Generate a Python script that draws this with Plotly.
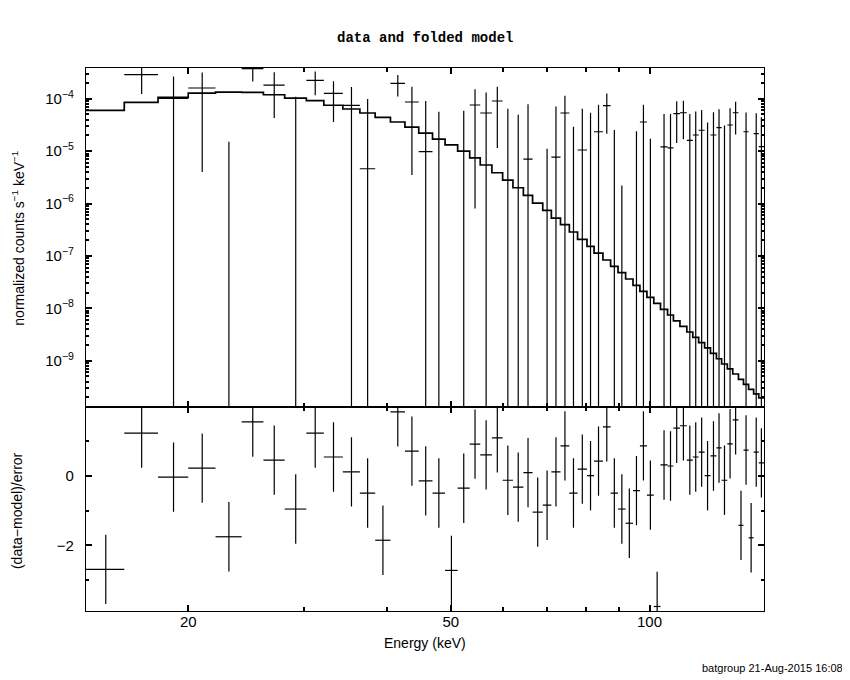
import math
import plotly.graph_objects as go
from plotly.subplots import make_subplots

# ---------------- data ----------------
# energy bin edges (keV)
e_edges = [14.0, 16.0, 18.0, 20.0, 22.0, 24.1, 26.0, 28.0, 30.2, 32.1,
           34.3, 36.4, 38.4, 40.5, 42.6, 44.7, 46.9, 49.0, 51.2, 53.4,
           55.4, 57.7, 59.9, 62.1, 64.4, 66.5, 68.9, 71.0, 73.3, 75.6,
           77.8, 80.4, 82.4, 85.0, 87.3, 89.6, 92.0, 94.4, 96.7, 99.1,
           101.5, 103.9, 106.5, 108.7, 111.2, 113.9, 116.3, 118.7, 121.2, 123.7,
           126.3, 128.6, 131.2, 133.7, 136.4, 138.8, 141.3, 143.8, 146.4, 149.1]

# folded model (normalized counts s^-1 keV^-1)
model = [5.99e-5, 8.51e-5, 1.06e-4, 1.28e-4, 1.34e-4, 1.32e-4, 1.19e-4, 1.03e-4, 9.16e-5, 7.5e-5,
         6.36e-5, 5.33e-5, 4.4e-5, 3.59e-5, 2.88e-5, 2.21e-5, 1.70e-5, 1.31e-5, 1.0e-5, 7.4e-6,
         5.43e-6, 3.86e-6, 2.8e-6, 2.0e-6, 1.43e-6, 1.02e-6, 7.4e-7, 5.28e-7, 3.94e-7, 2.86e-7,
         2.07e-7, 1.52e-7, 1.13e-7, 8.35e-8, 6.3e-8, 4.78e-8, 3.62e-8, 2.74e-8, 2.1e-8, 1.62e-8,
         1.24e-8, 9.5e-9, 7.45e-9, 5.73e-9, 4.52e-9, 3.53e-9, 2.79e-9, 2.21e-9, 1.75e-9, 1.38e-9,
         1.09e-9, 8.65e-10, 6.95e-10, 5.57e-10, 4.4e-10, 3.53e-10, 2.83e-10, 2.32e-10, 1.95e-10]

# observed data
rate = [-4.24e-4, 2.87e-4, 1.01e-4, 1.60e-4, -1.44e-4, 3.74e-4, 1.82e-4, -2.05e-5, 2.23e-4, 1.26e-4,
        7.46e-5, 4.6e-6, -1.225e-4, 1.96e-4, 8.65e-5, 9.8e-6, -2.07e-5, -1.94e-4, -1.6e-5, 7.58e-5,
        5.33e-5, 9.04e-5, -5.6e-6, -2.04e-5, 7.0e-6, -6.97e-5, -5.39e-5, 7.7e-6, 5.33e-5, -2.79e-5,
        1.05e-5, 0.0, 2.34e-5, 7.35e-5, -2.46e-5, -4.18e-5, -5.85e-5, -1.72e-5, 3.59e-5, -2.12e-5,
        -1.5e-4, 1.2e-5, 1.15e-5, 5.2e-5, 5.4e-5, 1.6e-5, 2.03e-5, 2.5e-5, 0.0, 2.03e-5,
        2.8e-5, -4.2e-6, 3.15e-5, 5.4e-5, -4.69e-5, 2.34e-5, -5.7e-5, 2.15e-5, 1.22e-5]

rate_err = [1.8e-4, 1.64e-4, 1.65e-4, 1.56e-4, 1.59e-4, 1.60e-4, 1.39e-4, 1.30e-4, 1.06e-4, 0.90e-4,
            0.92e-4, 9.4e-5, 9.0e-5, 8.6e-5, 8.3e-5, 8.1e-5, 7.7e-5, 7.6e-5, 7.5e-5, 7.5e-5,
            7.85e-5, 7.9e-5, 7.0e-5, 7.0e-5, 7.1e-5, 6.8e-5, 6.5e-5, 6.3e-5, 6.1e-5, 5.7e-5,
            5.4e-5, 5.4e-5, 5.3e-5, 5.2e-5, 5.0e-5, 4.4e-5, 4.3e-5, 4.1e-5, 4.1e-5, 3.85e-5,
            4.0e-5, 3.9e-5, 3.97e-5, 3.77e-5, 3.72e-5, 3.48e-5, 3.69e-5, 3.62e-5, 3.5e-5, 3.5e-5,
            3.46e-5, 3.5e-5, 3.39e-5, 3.33e-5, 3.3e-5, 3.12e-5, 3.2e-5, 3.12e-5, 3.2e-5]

# (data-model)/error
resid = [-2.69, 1.24, -0.03, 0.23, -1.75, 1.56, 0.46, -0.95, 1.24, 0.55,
         0.12, -0.49, -1.85, 1.85, 0.72, -0.14, -0.49, -2.72, -0.35, 0.92,
         0.61, 1.10, -0.12, -0.32, 0.10, -1.04, -0.84, 0.12, 0.87, -0.49,
         0.20, 0.01, 0.43, 1.42, -0.49, -0.95, -1.36, -0.42, 0.87, -0.55,
         -3.76, 0.32, 0.29, 1.38, 1.45, 0.46, 0.55, 0.69, 0.01, 0.58,
         0.81, -0.12, 0.93, 1.62, -1.42, 0.75, -1.78, 0.69, 0.38]
RESID_ERR = 1.0

x_ticks_major = [20, 50, 100]
x_ticks_minor = [30, 40, 60, 70, 80, 90]
y_top_exps = [-9, -8, -7, -6, -5, -4]
y_top_minor = [k * 10.0 ** n for n in range(-11, -3) for k in range(2, 10)]
res_ticks_major = [-2, 0, 2]
res_ticks_minor = [-3, -1, 1]

# ---------------- figure ----------------
FONT = "Liberation Sans"
FLOOR = 1e-13

fig = make_subplots(rows=2, cols=1, shared_xaxes=True, vertical_spacing=0,
                    row_heights=[0.625, 0.375])

# model histogram
fig.add_trace(go.Scatter(x=e_edges, y=model + [model[-1]], mode="lines",
                         line=dict(color="black", width=1.7, shape="hv"),
                         hoverinfo="skip", showlegend=False), row=1, col=1)

# data crosses (top)
dx, dy = [], []
for lo, hi, r, s in zip(e_edges[:-1], e_edges[1:], rate, rate_err):
    c = 0.5 * (lo + hi)
    if r > 0:
        dx += [lo, hi, None]
        dy += [r, r, None]
    up = r + s
    if up > 0:
        dn = r - s if r - s > 0 else FLOOR
        dx += [c, c, None]
        dy += [dn, up, None]
fig.add_trace(go.Scatter(x=dx, y=dy, mode="lines", connectgaps=False,
                         line=dict(color="black", width=1.2),
                         hoverinfo="skip", showlegend=False), row=1, col=1)

# residual crosses (bottom)
rx, ry = [], []
for lo, hi, r in zip(e_edges[:-1], e_edges[1:], resid):
    c = 0.5 * (lo + hi)
    rx += [lo, hi, None, c, c, None]
    ry += [r, r, None, r - RESID_ERR, r + RESID_ERR, None]

fig.add_hline(y=0, line=dict(color="#00ff00", width=1.5), row=2, col=1)
fig.add_trace(go.Scatter(x=rx, y=ry, mode="lines", connectgaps=False,
                         line=dict(color="black", width=1.2),
                         hoverinfo="skip", showlegend=False), row=2, col=1)

xrange = [math.log10(e_edges[0]), math.log10(e_edges[-1])]
axis_common = dict(showline=True, linecolor="black", linewidth=1.2, mirror="ticks",
                   ticks="inside", ticklen=6, tickwidth=1.5, tickcolor="black",
                   showgrid=False, zeroline=False,
                   tickfont=dict(family=FONT, size=15, color="black"))

xa = dict(axis_common, type="log", range=xrange, tickmode="array",
          tickvals=x_ticks_major, ticktext=[str(v) for v in x_ticks_major],
          minor=dict(tickmode="array", tickvals=x_ticks_minor, ticks="inside",
                     ticklen=4, tickwidth=1.5, tickcolor="black", showgrid=False))
fig.update_xaxes(**xa, showticklabels=False, row=1, col=1)
fig.update_xaxes(**xa, showticklabels=True, ticklabelstandoff=-3, row=2, col=1)

fig.update_yaxes(**axis_common, type="log", range=[-9.891, -3.414], tickmode="array",
                 tickvals=[10.0 ** p for p in y_top_exps],
                 ticktext=["10<sup>\u2212%d</sup>" % (-p) for p in y_top_exps],
                 ticklabelstandoff=8,
                 minor=dict(tickmode="array", tickvals=y_top_minor, ticks="inside",
                            ticklen=3, tickwidth=1.5, tickcolor="black", showgrid=False),
                 row=1, col=1)
fig.update_yaxes(**axis_common, range=[-3.89, 1.98], tickmode="array",
                 tickvals=res_ticks_major, ticktext=["\u22122", "0", ""],
                 ticklabelstandoff=8,
                 minor=dict(tickmode="array", tickvals=res_ticks_minor, ticks="inside",
                            ticklen=3, tickwidth=1.5, tickcolor="black", showgrid=False),
                 row=2, col=1)

ann_font = dict(family=FONT, size=14, color="black")
fig.add_annotation(text="<b>data and folded model</b>", xref="paper", yref="paper",
                   x=0.5, y=1.0552, xanchor="center", yanchor="middle", showarrow=False,
                   font=dict(family="Liberation Mono", size=14, color="black"))
fig.add_annotation(text="normalized counts s<sup>\u22121</sup> keV<sup>\u22121</sup>",
                   xref="paper", yref="paper", x=-0.1003, y=0.6875, textangle=-90,
                   xanchor="center", yanchor="middle", showarrow=False, font=ann_font)
fig.add_annotation(text="(data\u2212model)/error", xref="paper", yref="paper",
                   x=-0.1025, y=0.185, textangle=-90, xanchor="center", yanchor="middle",
                   showarrow=False, font=ann_font)
fig.add_annotation(text="Energy (keV)", xref="paper", yref="paper", x=0.5, y=-0.0589,
                   xanchor="center", yanchor="middle", showarrow=False, font=ann_font)
fig.add_annotation(text="batgroup 21-Aug-2015 16:08", xref="paper", yref="paper",
                   x=1.1195, y=-0.105, xanchor="right", yanchor="middle", showarrow=False,
                   font=dict(family=FONT, size=11, color="black"))

# page body adds an 8px offset; margins chosen so the plot area lands at
# x 86-764, y 68-611 in the browser window
fig.update_layout(width=842, height=672, autosize=False,
                  margin=dict(l=78, r=86, t=60, b=69),
                  paper_bgcolor="white", plot_bgcolor="white", showlegend=False)

fig.write_html("out.html")
